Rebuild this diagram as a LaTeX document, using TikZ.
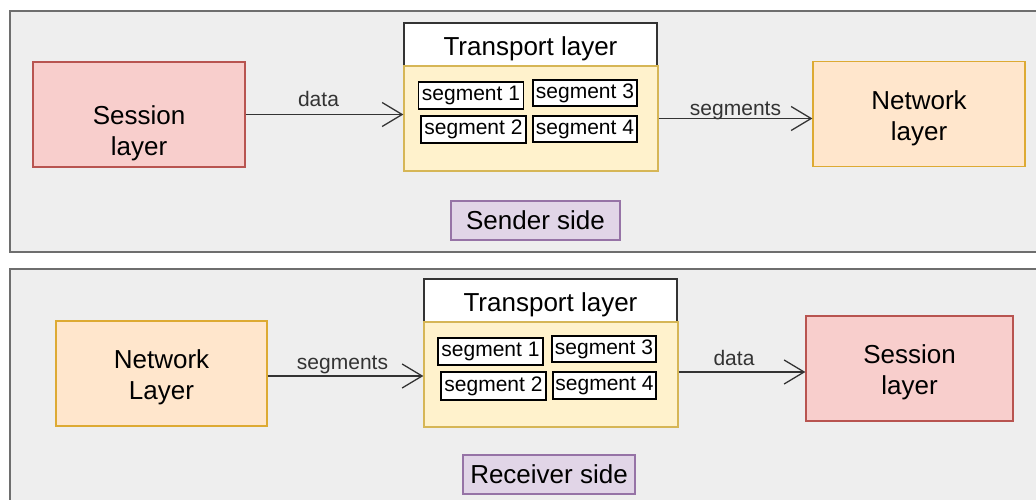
\documentclass[tikz,border=0pt]{standalone}
\usepackage{fontspec}
\setmainfont{Liberation Sans}
\usetikzlibrary{arrows.meta,positioning}
\definecolor{panelfill}{HTML}{EEEEEE}
\definecolor{paneldraw}{HTML}{6E6E6E}
\definecolor{sessfill}{HTML}{F8CECC}
\definecolor{sessdraw}{HTML}{B85450}
\definecolor{netfill}{HTML}{FFE6CC}
\definecolor{netdraw}{HTML}{DDAA33}
\definecolor{trfill}{HTML}{FFF2CC}
\definecolor{trdraw}{HTML}{D6B656}
\definecolor{sidefill}{HTML}{E1D5E7}
\definecolor{sidedraw}{HTML}{9673A6}
\definecolor{linegray}{HTML}{333333}
\begin{document}
\begin{tikzpicture}[x=1pt,y=-1pt,
  big/.style={font=\fontsize{26}{31}\selectfont},
  small/.style={font=\fontsize{21}{25}\selectfont},
  layerbox/.style={draw,line width=1.2pt,minimum width=212pt,minimum height=105pt,inner sep=0pt},
  layertext/.style={big,align=center,inner sep=0pt},
  sessbox/.style={layerbox,fill=sessfill,draw=sessdraw},
  netbox/.style={layerbox,fill=netfill,draw=netdraw},
  trtitle/.style={big,draw=linegray,fill=white,line width=1.2pt,minimum width=253pt,minimum height=43pt,inner sep=0pt,text height=22pt,text depth=0pt},
  trbody/.style={draw=trdraw,fill=trfill,line width=1.2pt,minimum width=254pt,minimum height=105pt,inner sep=0pt},
  segbox/.style={small,draw=black,fill=white,line width=1.2pt,minimum width=105pt,minimum height=27pt,inner sep=0pt},
  sidebox/.style={big,draw=sidedraw,fill=sidefill,line width=1.2pt,minimum height=39pt,inner sep=0pt},
  conn/.style={draw=linegray,line width=1.3pt,-{Straight Barb[length=20pt,width=24pt,line width=1.3pt]}},
  lbl/.style={small,text=linegray,inner sep=0pt,anchor=base}]
\useasboundingbox (0,0) rectangle (1036,500);
% panels
\filldraw[fill=panelfill,draw=paneldraw,line width=1.2pt] (10,11) rectangle (1045,252);
\filldraw[fill=panelfill,draw=paneldraw,line width=1.2pt] (10,269) rectangle (1045,510);

% sender side
\node[sessbox,label={[layertext,yshift=-19pt]center:{Session\\layer}}] (sessA) at (139,114.5) {};
\node[trtitle] (trTitleA) at (530.5,44.5) {Transport layer};
\node[trbody] (trBodyA) at (531,118.5) {};
\node[segbox] (segA1) at (471,95.5) {segment 1};
\node[segbox,minimum width=104pt,minimum height=26pt] (segA3) at (585,93) {segment 3};
\node[segbox] (segA2) at (473.5,129.5) {segment 2};
\node[segbox,minimum width=104pt,minimum height=26pt] (segA4) at (585,129) {segment 4};
\node[netbox,label={[layertext,yshift=-4pt]center:{Network\\layer}}] (netA) at (919,114) {};
\node[sidebox,minimum width=169pt] (sender) at (535.5,220.5) {Sender side};
\draw[conn] (sessA.east) -- node[lbl,yshift=8pt,xshift=-6pt]{data} (sessA.east -| trBodyA.west);
\draw[conn] (trBodyA.east) -- node[lbl,yshift=3pt]{segments} (trBodyA.east -| netA.west);

% receiver side
\node[netbox,minimum width=211pt,label={[layertext,yshift=-4pt]center:{Network\\Layer}}] (netB) at (161.5,373.5) {};
\node[trtitle] (trTitleB) at (550.5,300.5) {Transport layer};
\node[trbody] (trBodyB) at (551,374.5) {};
\node[segbox] (segB1) at (490.5,351.5) {segment 1};
\node[segbox,minimum width=104pt,minimum height=26pt] (segB3) at (604,349) {segment 3};
\node[segbox,minimum height=28pt] (segB2) at (493.5,386) {segment 2};
\node[segbox,minimum width=103pt] (segB4) at (604.5,385.5) {segment 4};
\node[sessbox,minimum width=207pt,label={[layertext,yshift=-4pt]center:{Session\\layer}}] (sessB) at (909.5,368.5) {};
\node[sidebox,minimum width=172pt] (receiver) at (549,474.5) {Receiver side};
\draw[conn] (netB.east) ++(0,2.5) coordinate (segB) -- node[lbl,yshift=7pt,xshift=-3pt]{segments} (segB -| trBodyB.west);
\draw[conn] (trBodyB.east |- sessB.center) ++(0,3.5) coordinate (dataB) -- node[lbl,yshift=7pt,xshift=-8pt]{data} (dataB -| sessB.west);
\end{tikzpicture}
\end{document}
